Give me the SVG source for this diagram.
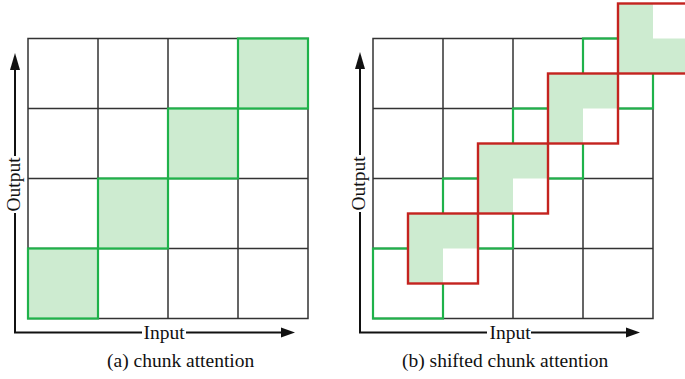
<svg xmlns="http://www.w3.org/2000/svg" width="685" height="379" viewBox="0 0 685 379">
  <style>
    .grid { fill: none; stroke: #333333; stroke-width: 1.5; }
    .chunk { fill: #cdebd0; stroke: #1fb24a; stroke-width: 2.2; }
    .chunk-outline { fill: none; stroke: #1fb24a; stroke-width: 2.2; }
    .shift-bg { fill: #ffffff; stroke: none; }
    .shift-fill { fill: #cdebd0; stroke: none; }
    .shift { fill: none; stroke: #c4231f; stroke-width: 2.4; }
    .axis { fill: none; stroke: #111111; stroke-width: 2; }
    .head { fill: #111111; stroke: none; }
    .label { font-family: "Liberation Serif", "Times New Roman", serif; font-size: 19.5px; fill: #111111; }
  </style>

  <!-- (a) chunk attention -->
  <g id="panel-a">
    <g id="grid-a">
      <rect class="grid" x="28" y="38.5" width="280" height="280"/>
      <path class="grid" d="M98 38.5V318.5M168 38.5V318.5M238 38.5V318.5M28 108.5H308M28 178.5H308M28 248.5H308"/>
    </g>
    <g id="chunk-a1"><rect class="chunk" x="28" y="248.5" width="70" height="70"/></g>
    <g id="chunk-a2"><rect class="chunk" x="98" y="178.5" width="70" height="70"/></g>
    <g id="chunk-a3"><rect class="chunk" x="168" y="108.5" width="70" height="70"/></g>
    <g id="chunk-a4"><rect class="chunk" x="238" y="38.5" width="70" height="70"/></g>
  </g>

  <!-- (b) shifted chunk attention -->
  <g id="panel-b">
    <g id="grid-b">
      <rect class="grid" x="373" y="38.5" width="280" height="280"/>
      <path class="grid" d="M443 38.5V318.5M513 38.5V318.5M583 38.5V318.5M373 108.5H653M373 178.5H653M373 248.5H653"/>
    </g>
    <g id="chunk-b1"><rect class="chunk-outline" x="373" y="248.5" width="70" height="70"/></g>
    <g id="chunk-b2"><rect class="chunk-outline" x="443" y="178.5" width="70" height="70"/></g>
    <g id="chunk-b3"><rect class="chunk-outline" x="513" y="108.5" width="70" height="70"/></g>
    <g id="chunk-b4"><rect class="chunk-outline" x="583" y="38.5" width="70" height="70"/></g>

    <!-- shifted windows: opaque square, shaded L region, red border -->
    <g id="shift-b1">
      <rect class="shift-bg" x="408" y="213.5" width="70" height="70"/>
      <path class="shift-fill" d="M408 213.5h70v35h-35v35h-35z"/>
      <rect class="shift" x="408" y="213.5" width="70" height="70"/>
    </g>
    <g id="shift-b2">
      <rect class="shift-bg" x="478" y="143.5" width="70" height="70"/>
      <path class="shift-fill" d="M478 143.5h70v35h-35v35h-35z"/>
      <rect class="shift" x="478" y="143.5" width="70" height="70"/>
    </g>
    <g id="shift-b3">
      <rect class="shift-bg" x="548" y="73.5" width="70" height="70"/>
      <path class="shift-fill" d="M548 73.5h70v35h-35v35h-35z"/>
      <rect class="shift" x="548" y="73.5" width="70" height="70"/>
    </g>
    <g id="shift-b4">
      <rect class="shift-bg" x="618" y="3.5" width="70" height="70"/>
      <path class="shift-fill" d="M618 3.5h35v35h35v35h-70z"/>
      <rect class="shift" x="618" y="3.5" width="70" height="70"/>
    </g>
  </g>

  <!-- axes -->
  <g id="axes">
    <path class="axis" d="M15 213V332.5H142M186 332.5H282M15 156V69"/>
    <path class="head" d="M15 53L10 70H20z"/>
    <path class="head" d="M295 332.5L281 327.5V337.5z"/>
    <path class="axis" d="M360 212V332.5H487M531 332.5H627M360 155V68"/>
    <path class="head" d="M360 52L355 69H365z"/>
    <path class="head" d="M640 332.5L626 327.5V337.5z"/>
  </g>

  <g id="labels">
    <text class="label" x="20" y="184.5" text-anchor="middle" transform="rotate(-90 20 184.5)">Output</text>
    <text class="label" x="143.5" y="339">Input</text>
    <text class="label" x="365" y="183.5" text-anchor="middle" transform="rotate(-90 365 183.5)">Output</text>
    <text class="label" x="489.5" y="339">Input</text>
    <text class="label" x="107" y="367">(a) chunk attention</text>
    <text class="label" x="402" y="367">(b) shifted chunk attention</text>
  </g>
</svg>
